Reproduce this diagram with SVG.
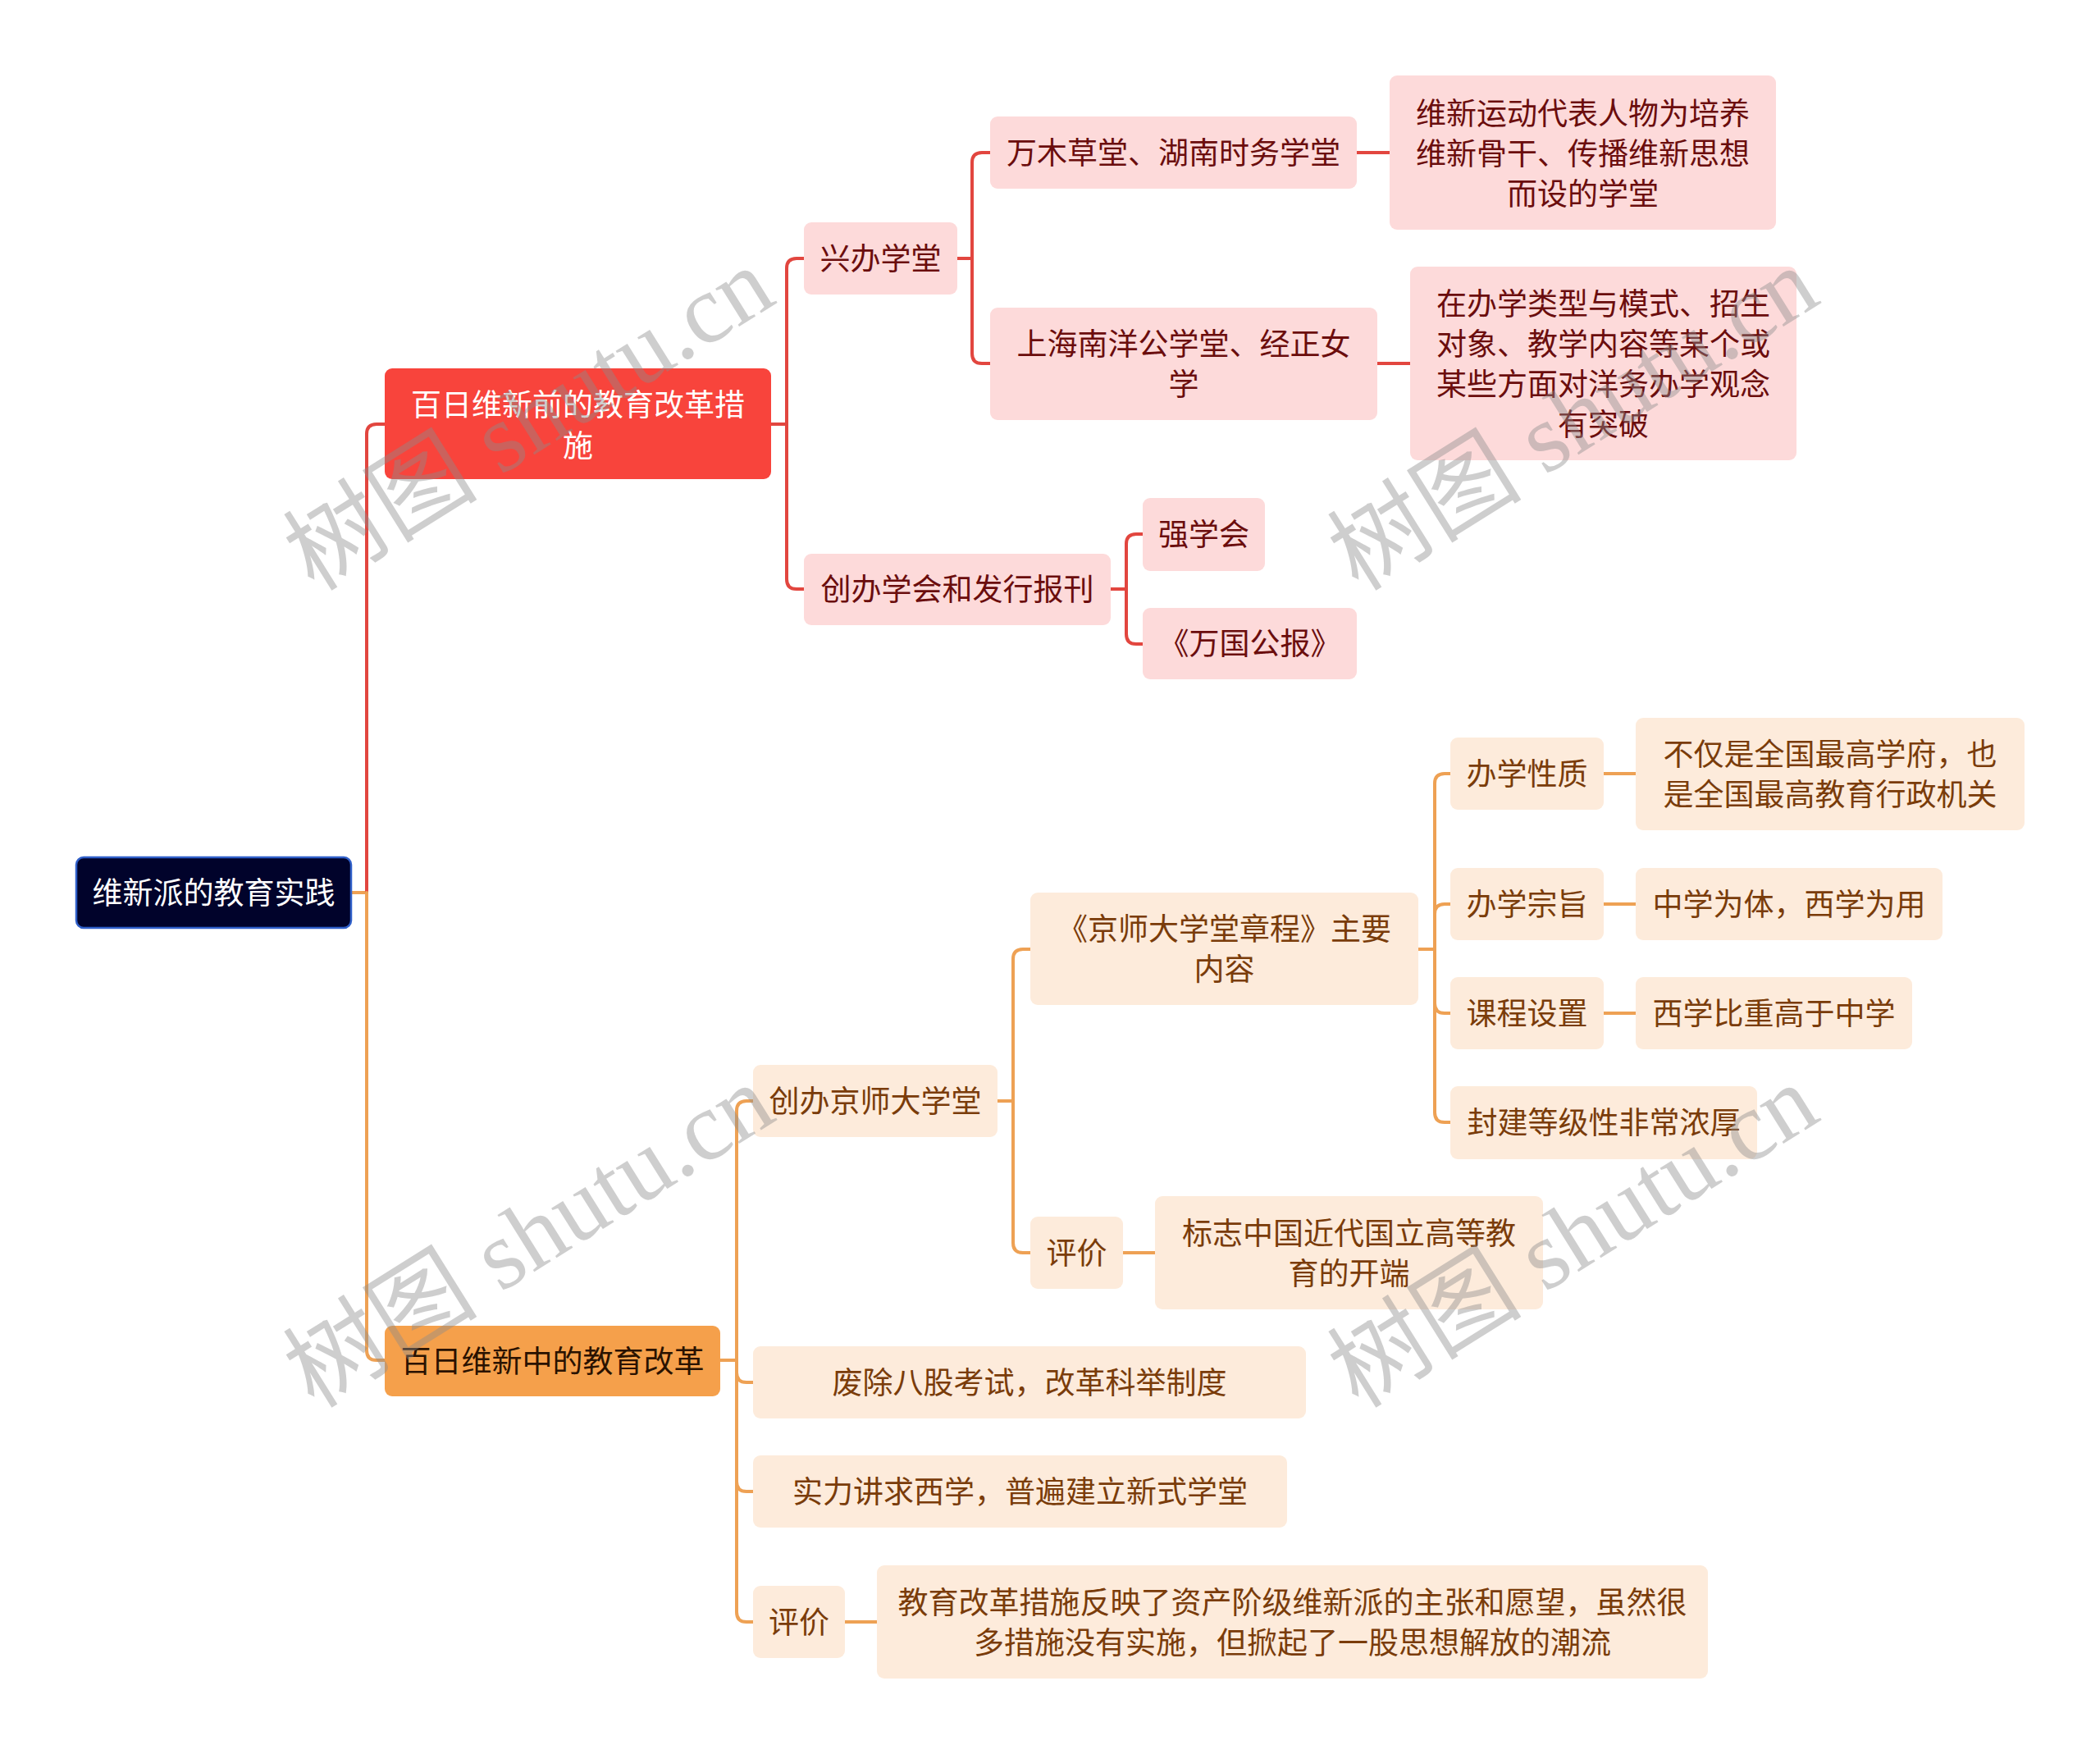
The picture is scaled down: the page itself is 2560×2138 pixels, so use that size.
<svg xmlns="http://www.w3.org/2000/svg" width="2560" height="2138" viewBox="0 0 2560 2138">
<style>
text{font-family:"Noto Sans CJK SC","Noto Sans",sans-serif;font-size:37px;text-anchor:middle}
.root rect{fill:#01032b;stroke:#2f5fc9;stroke-width:2.5}
.root text{fill:#ffffff}
.l1a rect{fill:#f8443c}
.l1a text{fill:#ffffff}
.l1b rect{fill:#f5a04b}
.l1b text{fill:#2a1200}
.pk rect{fill:#fddada}
.pk text{fill:#6b0d0d}
.pc rect{fill:#fdebdb}
.pc text{fill:#7a3c0a}
.cr{fill:none;stroke:#e2463f;stroke-width:4;stroke-linecap:round}
.co{fill:none;stroke:#eea154;stroke-width:4;stroke-linecap:round}
.wm text{font-family:"Liberation Serif","Noto Sans CJK SC",serif;font-size:119px;fill:#8c8c8c;opacity:0.42}
</style>
<rect width="2560" height="2138" fill="#ffffff"/>
<g id="connectors">
<path class="co" d="M428,1088 H447"/>
<path class="cr" d="M447,1088 V529 Q447,517 459,517 H469"/>
<path class="co" d="M447,1088 V1646 Q447,1658 459,1658 H469"/>
<path class="cr" d="M940,517 H959 M959,517 V327 Q959,315 971,315 H980 M959,517 V706 Q959,718 971,718 H980"/>
<path class="cr" d="M1167,315 H1185 M1185,315 V198 Q1185,186 1197,186 H1207 M1185,315 V431 Q1185,443 1197,443 H1207"/>
<path class="cr" d="M1354,718 H1373 M1373,718 V663 Q1373,651 1385,651 H1393 M1373,718 V773 Q1373,785 1385,785 H1393"/>
<path class="cr" d="M1654,186 H1694"/>
<path class="cr" d="M1679,443 H1719"/>
<path class="co" d="M878,1658 H898 M898,1658 V1354 Q898,1342 910,1342 H918 M898,1658 V1673 Q898,1685 910,1685 H918 M898,1658 V1806 Q898,1818 910,1818 H918 M898,1658 V1965 Q898,1977 910,1977 H918"/>
<path class="co" d="M1216,1342 H1235 M1235,1342 V1169 Q1235,1157 1247,1157 H1256 M1235,1342 V1515 Q1235,1527 1247,1527 H1256"/>
<path class="co" d="M1369,1527 H1408"/>
<path class="co" d="M1030,1977 H1069"/>
<path class="co" d="M1729,1157 H1749 M1749,1157 V955 Q1749,943 1761,943 H1768 M1749,1157 V1114 Q1749,1102 1761,1102 H1768 M1749,1157 V1223 Q1749,1235 1761,1235 H1768 M1749,1157 V1356 Q1749,1368 1761,1368 H1768"/>
<path class="co" d="M1955,943 H1994 M1955,1102 H1994 M1955,1235 H1994"/>
</g>
<g id="root" class="root"><rect x="93" y="1045" width="335" height="86" rx="9"/><text x="260.5" y="1102">维新派的教育实践</text></g>
<g id="n-a" class="l1a"><rect x="469" y="449" width="471" height="135" rx="9"/><text x="704.5" y="507">百日维新前的教育改革措</text><text x="704.5" y="557">施</text></g>
<g id="n-b" class="l1b"><rect x="469" y="1616" width="409" height="86" rx="9"/><text x="673.5" y="1673">百日维新中的教育改革</text></g>
<g id="n-xbxt" class="pk"><rect x="980" y="271" width="187" height="88" rx="9"/><text x="1073.5" y="329">兴办学堂</text></g>
<g id="n-cbxh" class="pk"><rect x="980" y="675" width="374" height="87" rx="9"/><text x="1167" y="732">创办学会和发行报刊</text></g>
<g id="n-wmct" class="pk"><rect x="1207" y="142" width="447" height="88" rx="9"/><text x="1430.5" y="200">万木草堂、湖南时务学堂</text></g>
<g id="n-shny" class="pk"><rect x="1207" y="375" width="472" height="137" rx="9"/><text x="1443" y="433">上海南洋公学堂、经正女</text><text x="1443" y="482">学</text></g>
<g id="n-wxyd" class="pk"><rect x="1694" y="92" width="471" height="188" rx="9"/><text x="1929.5" y="152">维新运动代表人物为培养</text><text x="1929.5" y="201">维新骨干、传播维新思想</text><text x="1929.5" y="250">而设的学堂</text></g>
<g id="n-zbxl" class="pk"><rect x="1719" y="325" width="471" height="236" rx="9"/><text x="1954.5" y="384">在办学类型与模式、招生</text><text x="1954.5" y="433">对象、教学内容等某个或</text><text x="1954.5" y="482">某些方面对洋务办学观念</text><text x="1954.5" y="531">有突破</text></g>
<g id="n-qxh" class="pk"><rect x="1393" y="607" width="149" height="89" rx="9"/><text x="1467.5" y="665">强学会</text></g>
<g id="n-wggb" class="pk"><rect x="1393" y="741" width="261" height="87" rx="9"/><text x="1523.5" y="798">《万国公报》</text></g>
<g id="n-cbjs" class="pc"><rect x="918" y="1298" width="298" height="88" rx="9"/><text x="1067" y="1356">创办京师大学堂</text></g>
<g id="n-fcbg" class="pc"><rect x="918" y="1641" width="674" height="88" rx="9"/><text x="1255" y="1699">废除八股考试，改革科举制度</text></g>
<g id="n-slqq" class="pc"><rect x="918" y="1774" width="651" height="88" rx="9"/><text x="1243.5" y="1832">实力讲求西学，普遍建立新式学堂</text></g>
<g id="n-pj2" class="pc"><rect x="918" y="1933" width="112" height="88" rx="9"/><text x="974" y="1991">评价</text></g>
<g id="n-jygg" class="pc"><rect x="1069" y="1908" width="1013" height="138" rx="9"/><text x="1575.5" y="1967">教育改革措施反映了资产阶级维新派的主张和愿望，虽然很</text><text x="1575.5" y="2016">多措施没有实施，但掀起了一股思想解放的潮流</text></g>
<g id="n-zc" class="pc"><rect x="1256" y="1088" width="473" height="137" rx="9"/><text x="1492.5" y="1146">《京师大学堂章程》主要</text><text x="1492.5" y="1195">内容</text></g>
<g id="n-pj1" class="pc"><rect x="1256" y="1483" width="113" height="88" rx="9"/><text x="1312.5" y="1541">评价</text></g>
<g id="n-bz" class="pc"><rect x="1408" y="1458" width="473" height="138" rx="9"/><text x="1644.5" y="1517">标志中国近代国立高等教</text><text x="1644.5" y="1566">育的开端</text></g>
<g id="n-bxxz" class="pc"><rect x="1768" y="899" width="187" height="88" rx="9"/><text x="1861.5" y="957">办学性质</text></g>
<g id="n-bj" class="pc"><rect x="1994" y="875" width="474" height="137" rx="9"/><text x="2231" y="933">不仅是全国最高学府，也</text><text x="2231" y="982">是全国最高教育行政机关</text></g>
<g id="n-bxzz" class="pc"><rect x="1768" y="1058" width="187" height="88" rx="9"/><text x="1861.5" y="1116">办学宗旨</text></g>
<g id="n-zxwt" class="pc"><rect x="1994" y="1058" width="374" height="88" rx="9"/><text x="2181" y="1116">中学为体，西学为用</text></g>
<g id="n-kcsz" class="pc"><rect x="1768" y="1191" width="187" height="88" rx="9"/><text x="1861.5" y="1249">课程设置</text></g>
<g id="n-xxbz" class="pc"><rect x="1994" y="1191" width="337" height="88" rx="9"/><text x="2162.5" y="1249">西学比重高于中学</text></g>
<g id="n-fjdj" class="pc"><rect x="1768" y="1324" width="374" height="89" rx="9"/><text x="1955" y="1382">封建等级性非常浓厚</text></g>
<g class="wm">
<text transform="translate(666,545) rotate(-32)">树图 shutu.cn</text>
<text transform="translate(1939,545) rotate(-32)">树图 shutu.cn</text>
<text transform="translate(666,1541) rotate(-32)">树图 shutu.cn</text>
<text transform="translate(1939,1541) rotate(-32)">树图 shutu.cn</text>
</g>
</svg>
